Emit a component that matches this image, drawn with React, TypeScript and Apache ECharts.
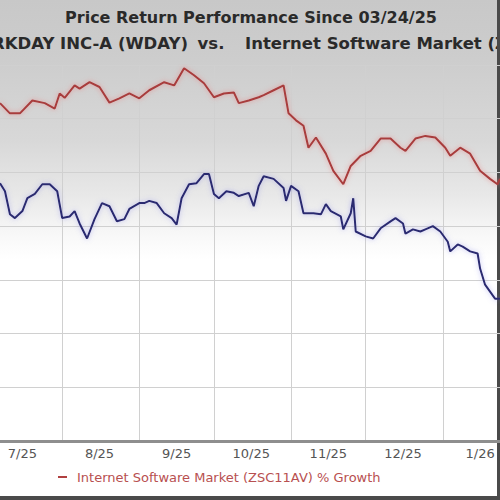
import React, { useEffect, useRef } from "react";
import * as echarts from "echarts";

// ---- data ----
const startDate = "2025-07-07";
const totalDays = 202;
const monthKeys = ["2025-07", "2025-08", "2025-09", "2025-10", "2025-11", "2025-12", "2026-01"];
const monthLabels = ["7/25", "8/25", "9/25", "10/25", "11/25", "12/25", "1/26"];
const titleLine1 = "Price Return Performance Since 03/24/25";
const stockName = "WORKDAY INC-A (WDAY)";
const industryName = "Internet Software Market (ZSC11AV)";
const legendLabel = "Internet Software Market (ZSC11AV) % Growth";
const yMin = -40;
const yMax = 30;
const yStep = 10;

// [day offset from startDate, % growth]
const industryPoints: [number, number][] = [
  [0, 22.9], [4, 21.0], [8, 21.0], [13, 23.4], [18, 22.9], [22, 21.9], [24, 24.7], [26, 23.9],
  [30, 26.2], [32, 25.6], [36, 26.8], [40, 25.9], [44, 23.0], [48, 23.8], [52, 24.7], [56, 23.8],
  [60, 25.3], [66, 26.8], [70, 26.2], [74, 29.4], [78, 28.1], [82, 26.6], [86, 24.0], [90, 24.7],
  [94, 24.9], [96, 22.9], [100, 23.4], [104, 24.0], [106, 24.4], [110, 25.3], [114, 26.2], [116, 21.0],
  [119, 19.7], [122, 18.7], [124, 14.6], [127, 16.5], [131, 13.5], [134, 10.3], [138, 7.8], [141, 11.2],
  [145, 13.1], [149, 14.0], [153, 16.3], [157, 16.3], [161, 14.6], [163, 14.0], [167, 16.3], [171, 16.8],
  [175, 16.5], [179, 14.6], [181, 13.1], [185, 14.6], [189, 13.5], [193, 10.3], [197, 8.8], [200, 7.8],
  [201, 8.8],
];

const stockPoints: [number, number][] = [
  [0, 8.0], [2, 6.5], [4, 2.2], [6, 1.5], [9, 2.8], [11, 5.2], [14, 6.0], [17, 7.8], [20, 7.8],
  [23, 6.5], [25, 1.5], [28, 1.8], [30, 2.8], [32, 0.5], [35, -2.3], [38, 1.3], [41, 4.3], [44, 3.7],
  [47, 0.9], [50, 1.3], [52, 3.2], [56, 4.3], [58, 4.3], [60, 4.7], [63, 4.3], [66, 2.4], [69, 1.5],
  [71, 0.3], [73, 5.2], [76, 7.8], [79, 8.0], [82, 9.7], [84, 9.7], [86, 6.0], [88, 5.2], [91, 6.5],
  [94, 6.2], [96, 5.6], [100, 6.2], [102, 3.7], [104, 7.5], [106, 9.3], [110, 8.8], [114, 7.1],
  [115, 4.7], [117, 7.5], [120, 6.5], [122, 2.4], [126, 2.4], [129, 2.2], [131, 4.1], [133, 2.8],
  [137, 1.8], [138, -0.6], [141, 2.4], [142, 5.2], [143, -1.0], [147, -1.9], [150, -2.3], [153, -0.4],
  [157, 0.9], [159, 1.5], [162, 0.5], [163, -1.4], [166, -0.6], [169, -1.0], [171, -0.6], [174, 0.0],
  [177, -1.0], [180, -2.9], [181, -4.7], [184, -3.4], [186, -3.8], [189, -4.7], [192, -5.1], [193, -7.9],
  [195, -10.9], [197, -12.2], [199, -13.5], [201, -13.5],
];

function buildDays(): string[] {
  const out: string[] = [];
  const d0 = new Date(startDate + "T00:00:00Z").getTime();
  for (let i = 0; i < totalDays; i++) {
    out.push(new Date(d0 + i * 86400000).toISOString().slice(0, 10));
  }
  return out;
}

const FONT = "DejaVu Sans";

export default function App() {
  const ref = useRef<HTMLDivElement>(null);

  useEffect(() => {
    if (!ref.current) return;
    const chart = echarts.init(ref.current, null, { renderer: "svg" });
    const days = buildDays();
    chart.setOption({
      animation: false,
      backgroundColor: "transparent",
      grid: { left: 0, right: 0, top: 65, bottom: 59 },
      xAxis: {
        type: "category",
        data: days,
        boundaryGap: false,
        axisLine: { onZero: false, lineStyle: { color: "#8e8e8e", width: 3 } },
        axisTick: { show: false },
        axisLabel: {
          interval: (_i: number, v: string) => v.slice(8) === "16",
          formatter: (v: string) => monthLabels[monthKeys.indexOf(v.slice(0, 7))] ?? "",
          color: "#555555",
          fontSize: 13,
          fontFamily: FONT,
          margin: 6,
        },
        splitLine: {
          show: true,
          interval: (_i: number, v: string) => v.slice(8) === "01",
          lineStyle: { color: "#d0d0d0", width: 1 },
        },
      },
      yAxis: {
        type: "value",
        min: yMin,
        max: yMax,
        interval: yStep,
        axisLine: { show: false },
        axisTick: { show: false },
        axisLabel: { show: false },
        splitLine: { show: true, lineStyle: { color: "#d0d0d0", width: 1 } },
      },
      series: [
        {
          name: industryName,
          type: "line",
          showSymbol: false,
          data: industryPoints.map(([d, v]) => [days[d], v]),
          lineStyle: {
            color: "#a83c3c",
            width: 2,
            shadowColor: "rgba(235,120,120,0.7)",
            shadowBlur: 5,
          },
          z: 3,
        },
        {
          name: stockName,
          type: "line",
          showSymbol: false,
          data: stockPoints.map(([d, v]) => [days[d], v]),
          lineStyle: {
            color: "#2b2b70",
            width: 2,
            shadowColor: "rgba(120,120,230,0.5)",
            shadowBlur: 5,
          },
          z: 4,
        },
      ],
      graphic: [
        {
          type: "text",
          x: 251,
          y: 17,
          style: {
            text: titleLine1,
            textAlign: "center",
            textVerticalAlign: "middle",
            font: `bold 16px "${FONT}"`,
            fill: "#2a2a2a",
          },
        },
        {
          type: "text",
          x: 188,
          y: 43,
          style: {
            text: stockName,
            textAlign: "right",
            textVerticalAlign: "middle",
            font: `bold 16.5px "${FONT}"`,
            fill: "#2a2a2a",
          },
        },
        {
          type: "text",
          x: 211,
          y: 43,
          style: {
            text: "vs.",
            textAlign: "center",
            textVerticalAlign: "middle",
            font: `bold 16.5px "${FONT}"`,
            fill: "#2a2a2a",
          },
        },
        {
          type: "text",
          x: 245,
          y: 43,
          style: {
            text: industryName,
            textAlign: "left",
            textVerticalAlign: "middle",
            font: `bold 16.5px "${FONT}"`,
            fill: "#2a2a2a",
          },
        },
        {
          type: "line",
          shape: { x1: 58, y1: 477, x2: 67, y2: 477 },
          style: { stroke: "#b04040", lineWidth: 2 },
        },
        {
          type: "text",
          x: 77,
          y: 477,
          style: {
            text: legendLabel,
            textAlign: "left",
            textVerticalAlign: "middle",
            font: `13px "${FONT}"`,
            fill: "#b85050",
          },
        },
        {
          type: "rect",
          shape: { x: 497, y: 0, width: 3, height: 500 },
          style: { fill: "#4a4a4a" },
        },
        {
          type: "rect",
          shape: { x: 0, y: 496, width: 500, height: 4 },
          style: { fill: "#4a4a4a" },
        },
      ],
    });
    return () => chart.dispose();
  }, []);

  return (
    <div
      ref={ref}
      style={{
        position: "absolute",
        left: 0,
        top: 0,
        width: 500,
        height: 500,
        background:
          "linear-gradient(to bottom, #c8c8c8 0px, #cdcdcd 60px, #d8d8d8 140px, #e8e8e8 195px, #f8f8f8 235px, #ffffff 260px, #ffffff 100%)",
      }}
    />
  );
}
